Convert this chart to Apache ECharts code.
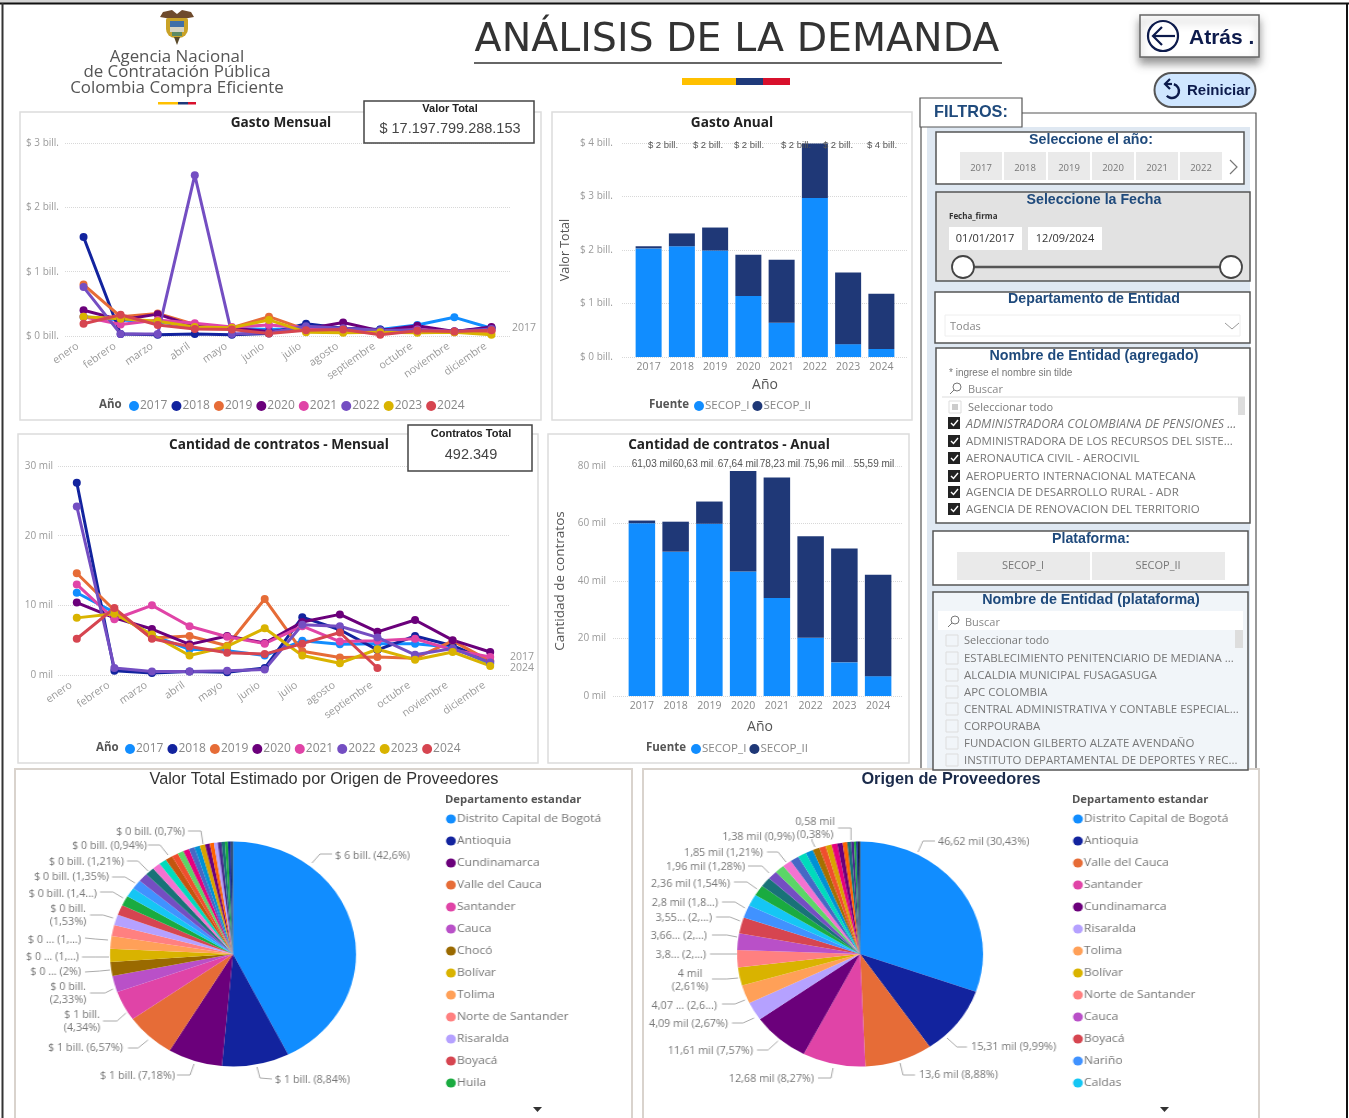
<!DOCTYPE html>
<html><head><meta charset="utf-8">
<title>Análisis de la demanda</title>
<script src="https://cdn.jsdelivr.net/npm/echarts@6/dist/echarts.min.js"></script>
<style>
html,body{margin:0;padding:0;background:#fff;overflow:hidden}
#main{position:absolute;left:0;top:0;width:1349px;height:1118px}
.pie{position:absolute;transform-origin:0 0}
</style></head><body>
<div id="main"></div>
<div id="pieA" class="pie"></div>
<div id="pieB" class="pie"></div>
<script>
// ---------- data ----------
const months = ['enero','febrero','marzo','abril','mayo','junio','julio','agosto','septiembre','octubre','noviembre','diciembre'];
const years = ['2017','2018','2019','2020','2021','2022','2023','2024'];
const yearColors = ['#118DFF','#12239E','#E66C37','#6B007B','#E044A7','#744EC2','#D9B300','#D64550'];

const gasto2017 = [0.30,0.25,0.22,0.14,0.12,0.10,0.12,0.09,0.10,0.17,0.29,0.12];
const gasto2018 = [1.54,0.03,0.02,0.03,0.02,0.04,0.19,0.12,0.10,0.10,0.07,0.13];
const gasto2019 = [0.80,0.30,0.35,0.18,0.13,0.30,0.10,0.09,0.07,0.07,0.06,0.07];
const gasto2020 = [0.40,0.25,0.34,0.15,0.12,0.07,0.11,0.21,0.08,0.16,0.07,0.14];
const gasto2021 = [0.30,0.18,0.25,0.20,0.14,0.17,0.13,0.10,0.07,0.10,0.07,0.09];
const gasto2022 = [0.76,0.03,0.03,2.50,0.03,0.05,0.15,0.12,0.09,0.09,0.07,0.11];
const gasto2023 = [0.30,0.27,0.23,0.14,0.13,0.25,0.06,0.05,0.06,0.05,0.06,0.02];
const gasto2024 = [0.19,0.33,0.17,0.11,0.10,0.04,0.09,0.10,0.02,0.08,0.07,0.09];
const gastoSeries = [gasto2017,gasto2018,gasto2019,gasto2020,gasto2021,gasto2022,gasto2023,gasto2024];

const contratos2017 = [11.8,9.0,5.7,3.7,3.5,2.8,4.9,4.4,4.5,4.5,4.0,1.6];
const contratos2018 = [27.6,0.6,0.3,0.5,0.4,1.0,8.3,6.5,3.6,5.6,4.2,2.0];
const contratos2019 = [14.6,9.3,5.3,5.6,4.2,10.9,3.4,2.5,2.6,2.4,4.9,2.0];
const contratos2020 = [10.4,8.2,6.6,4.4,5.6,4.6,7.6,8.7,6.2,7.9,5.0,3.3];
const contratos2021 = [13.0,8.0,10.0,7.0,5.5,4.5,7.0,4.8,4.9,5.2,3.6,2.6];
const contratos2022 = [24.2,1.0,0.5,0.5,0.6,0.8,7.2,7.0,5.4,2.9,3.8,1.8];
const contratos2023 = [8.2,8.8,5.8,2.8,4.1,6.7,2.8,1.7,3.7,2.2,3.3,1.3];
const contratos2024 = [5.2,9.6,5.2,4.1,3.2,3.0,4.5,6.1,1.0,null,null,null];
const contratosSeries = [contratos2017,contratos2018,contratos2019,contratos2020,contratos2021,contratos2022,contratos2023,contratos2024];

const fuentes = ['SECOP_I','SECOP_II'];
const anualGastoI  = [2.03,2.07,1.99,1.14,0.64,2.97,0.24,0.15];
const anualGastoII = [0.04,0.24,0.43,0.77,1.18,1.02,1.34,1.03];
const anualContratosI  = [60.1,50.2,59.9,43.3,34.1,20.3,11.7,6.9];
const anualContratosII = [0.93,10.43,7.74,34.93,41.86,35.29,39.6,35.3];
const gastoTotales = ['$ 2 bill.','$ 2 bill.','$ 2 bill.','$ 2 bill.','$ 2 bill.','$ 4 bill.'];
const contratosTotales = ['61,03 mil','60,63 mil','67,64 mil','78,23 mil','75,96 mil','55,59 mil'];

const pieANames = ['Distrito Capital de Bogotá','Antioquia','Cundinamarca','Valle del Cauca','Santander','Cauca','Chocó','Bolívar','Tolima','Norte de Santander','Risaralda','Boyacá','Huila','Caldas','Nariño','Meta','Córdoba','Atlántico','Magdalena','Sucre','Cesar','Quindío','La Guajira','Casanare','Arauca','Putumayo','Caquetá','Guaviare','Amazonas','Vichada','Vaupés','San Andrés','Guainía','Exterior'];
const pieAValues = [42.6,8.84,7.18,6.57,4.34,2.33,2.0,1.9,1.8,1.6,1.53,1.45,1.42,1.38,1.35,1.25,1.21,1.05,1.0,0.94,0.85,0.8,0.78,0.75,0.72,0.7,0.62,0.55,0.5,0.48,0.45,0.4,0.36,0.3];
const pieAColors = ['#118DFF','#12239E','#6B007B','#E66C37','#E044A7','#B950C8','#9A6A00','#D9B300','#FFA058','#FF8080','#B5A1FF','#D64550','#1AAB40','#15C6F4','#4092FF','#744EC2','#197278','#F472D0','#00DBBC','#C4550F','#F04E2E','#5BD667','#E6007E','#4668C5','#0091D5','#D9A300','#6B007B','#FF6300','#B5A1FF','#4B2A8C','#197278','#1AAB40','#12239E','#1F3A5F'];
const pieALabels = {0:'$ 6 bill. (42,6%)',1:'$ 1 bill. (8,84%)',2:'$ 1 bill. (7,18%)',3:'$ 1 bill. (6,57%)',4:'$ 1 bill.\n(4,34%)',5:'$ 0 bill.\n(2,33%)',6:'$ 0 ... (2%)',7:'$ 0 ... (1,...)',8:'$ 0 ... (1,...)',10:'$ 0 bill.\n(1,53%)',12:'$ 0 bill. (1,4...)',14:'$ 0 bill. (1,35%)',16:'$ 0 bill. (1,21%)',19:'$ 0 bill. (0,94%)',25:'$ 0 bill. (0,7%)'};
const pieALegend = ['Distrito Capital de Bogotá','Antioquia','Cundinamarca','Valle del Cauca','Santander','Cauca','Chocó','Bolívar','Tolima','Norte de Santander','Risaralda','Boyacá','Huila'];

const pieBNames = ['Distrito Capital de Bogotá','Antioquia','Valle del Cauca','Santander','Cundinamarca','Risaralda','Tolima','Bolívar','Norte de Santander','Cauca','Boyacá','Nariño','Caldas','Huila','Meta','Córdoba','Atlántico','Magdalena','Sucre','Cesar','Quindío','Chocó','La Guajira','Casanare','Arauca','Putumayo','Caquetá','Guaviare','Amazonas','Vichada','Vaupés','San Andrés'];
const pieBValues = [30.43,9.99,8.88,8.27,7.57,2.67,2.66,2.61,2.48,2.39,2.32,1.83,1.7,1.54,1.4,1.28,1.25,1.21,1.15,1.1,1.0,0.9,0.85,0.8,0.75,0.7,0.6,0.5,0.38,0.3,0.25,0.24];
const pieBColors = ['#118DFF','#12239E','#E66C37','#E044A7','#6B007B','#B5A1FF','#FFA058','#D9B300','#FF8080','#B950C8','#D64550','#4092FF','#15C6F4','#1AAB40','#197278','#744EC2','#5BD667','#F472D0','#4668C5','#00DBBC','#0091D5','#A66F00','#F04E2E','#D9A300','#E6007E','#6B007B','#FF6300','#197278','#4B2A8C','#1AAB40','#12239E','#111111'];
const pieBLabels = {0:'46,62 mil (30,43%)',1:'15,31 mil (9,99%)',2:'13,6 mil (8,88%)',3:'12,68 mil (8,27%)',4:'11,61 mil (7,57%)',5:'4,09 mil (2,67%)',6:'4,07 ... (2,6...)',7:'4 mil\n(2,61%)',8:'3,8... (2,...)',9:'3,66... (2,...)',10:'3,55... (2,...)',11:'2,8 mil (1,8...)',13:'2,36 mil (1,54%)',15:'1,96 mil (1,28%)',17:'1,85 mil (1,21%)',21:'1,38 mil (0,9%)',28:'0,58 mil\n(0,38%)'};
const pieBLegend = ['Distrito Capital de Bogotá','Antioquia','Valle del Cauca','Santander','Cundinamarca','Risaralda','Tolima','Bolívar','Norte de Santander','Cauca','Boyacá','Nariño','Caldas'];

const entidadesAgregado = ['ADMINISTRADORA COLOMBIANA DE PENSIONES ...','ADMINISTRADORA DE LOS RECURSOS DEL SISTE...','AERONAUTICA CIVIL - AEROCIVIL','AEROPUERTO INTERNACIONAL MATECANA','AGENCIA DE DESARROLLO RURAL - ADR','AGENCIA DE RENOVACION DEL TERRITORIO'];
const entidadesPlataforma = ['ESTABLECIMIENTO PENITENCIARIO DE MEDIANA ...','ALCALDIA MUNICIPAL FUSAGASUGA','APC COLOMBIA','CENTRAL ADMINISTRATIVA Y CONTABLE ESPECIAL...','CORPOURABA','FUNDACION GILBERTO ALZATE AVENDAÑO','INSTITUTO DEPARTAMENTAL DE DEPORTES Y REC...'];
const anioBotones = ['2017','2018','2019','2020','2021','2022'];

// ---------- layout ----------
const SANS = '"Open Sans"', ARIAL = '"Liberation Sans"', NAVY='#1f4a7c', DARK='#0d1b4c';
const G = [];
function rect(x,y,w,h,fill,stroke,lw,z,extra){G.push({type:'rect',z:z==null?-5:z,shape:Object.assign({x,y,width:w,height:h},extra&&extra.r?{r:extra.r}:{}),style:Object.assign({fill:fill||'none',stroke:stroke||null,lineWidth:lw||0},extra&&extra.style||{}),silent:true});}
function txt(x,y,s,size,color,o){o=o||{};G.push({type:'text',z:o.z==null?1:o.z,x,y:y+2,style:{text:s,font:(o.italic?'italic ':'')+(o.bold?'bold ':'')+size+'px '+(o.fam||SANS),fill:color,align:o.align||'left',verticalAlign:'middle'},silent:true});}
function line(pts,color,lw,z){G.push({type:'polyline',z:z==null?1:z,shape:{points:pts},style:{stroke:color,lineWidth:lw,fill:null},silent:true});}
function circ(x,y,r,fill,stroke,lw,z){G.push({type:'circle',z:z==null?1:z,shape:{cx:x,cy:y,r},style:{fill:fill||'none',stroke:stroke||null,lineWidth:lw||0},silent:true});}
function poly(pts,fill){G.push({type:'polygon',z:1,shape:{points:pts},style:{fill},silent:true});}
function arc(x,y,r,a0,a1,color,lw){G.push({type:'arc',z:1,shape:{cx:x,cy:y,r,startAngle:a0,endAngle:a1,clockwise:true},style:{stroke:color,lineWidth:lw,fill:null},silent:true});}

// page frame
rect(0,0,1260,3,'#d5d5d5');
line([[0,3.5],[1349,3.5]],'#111',2,3);
line([[2.5,3],[2.5,1118]],'#333',2,3);
line([[1347,3],[1347,1118]],'#111',2,3);

// header
txt(737,38.5,'ANÁLISIS DE LA DEMANDA',39.5,'#333',{fam:'"DejaVu Sans"',align:'center'});
line([[474,63],[1002,63]],'#333',1.5);
rect(682,78,54,7,'#FFC000',null,0,1);rect(736,78,27,7,'#1F3A7A',null,0,1);rect(763,78,27,7,'#D8102C',null,0,1);
// crest and logo
poly([[177,20],[160,17],[163,12],[172,10],[177,14]],'#6e4a2c');
poly([[177,20],[194,17],[191,12],[182,10],[177,14]],'#6e4a2c');
rect(166,18,22,20,'#C9A227',null,0,1,{r:[2,2,9,9]});
rect(170,21,14,6,'#3f6fa8',null,0,1);rect(170,27,14,5,'#d6d3c2',null,0,1);rect(172,32,10,4,'#5d8a63',null,0,1);
poly([[174,37],[180,37],[177,45]],'#5a4a2a');
txt(177,55,'Agencia Nacional',16.9,'#555',{align:'center'});
txt(177,70,'de Contratación Pública',16.9,'#555',{align:'center'});
txt(177,86,'Colombia Compra Eficiente',16.9,'#555',{align:'center'});
rect(158,102,20,2.5,'#FFC000',null,0,1);rect(178,102,10,2.5,'#1F3A7A',null,0,1);rect(188,102,8,2.5,'#D8102C',null,0,1);

// Atras / Reiniciar
rect(1140,15,119,42,'#fff','#666',1.5,0,{style:{shadowBlur:8,shadowOffsetY:6,shadowColor:'rgba(80,80,80,.6)'}});
circ(1163,36,15,'#fff',DARK,2.2,1);
line([[1175,36],[1153,36]],DARK,2.2);line([[1162,27],[1153,36],[1162,45]],DARK,2.2);
txt(1189,36,'Atrás .',21,DARK,{bold:true,fam:ARIAL});
rect(1154.5,73,101,34,'#CFE6FF','#555',2,0,{r:17});
arc(1172,91,7,-1.3,2.4,DARK,2.4);
line([[1172,84],[1166,84]],DARK,2.2);line([[1170,79],[1165,84],[1170,89]],DARK,2.2);
txt(1187,89,'Reiniciar',15,DARK,{bold:true,fam:ARIAL});

// chart panels
rect(20,112,521,308,'#fff','#dcdcdc',1.5);
rect(552,112,360,308,'#fff','#dcdcdc',1.5);
rect(18,434,520,329,'#fff','#dcdcdc',1.5);
rect(548,434,361,329,'#fff','#dcdcdc',1.5);
// KPI boxes
rect(364,101,170,42,'#fff','#444',1.5,20);
txt(450,107,'Valor Total',11,'#222',{bold:true,fam:ARIAL,align:'center',z:21});
txt(450,127,'$ 17.197.799.288.153',14.5,'#444',{fam:ARIAL,align:'center',z:21});
rect(408,425,124,46,'#fff','#444',1.5,20);
txt(471,432,'Contratos Total',11,'#222',{bold:true,fam:ARIAL,align:'center',z:21});
txt(471,453,'492.349',14.5,'#444',{fam:ARIAL,align:'center',z:21});
// legend captions
txt(99,403,'Año',11.5,'#555',{bold:true});
txt(96,746,'Año',11.5,'#555',{bold:true});
txt(649,403,'Fuente',11.5,'#555',{bold:true});
txt(646,746,'Fuente',11.5,'#555',{bold:true});
// end labels
txt(512,326,'2017',10.5,'#999');
txt(510,655,'2017',10.5,'#999');txt(510,666,'2024',10.5,'#999');
// bar totals
const gastoTotalX=[663,708,749,796,838,882];
gastoTotales.forEach((s,i)=>txt(gastoTotalX[i],143,s,9.5,'#555',{fam:ARIAL,align:'center',z:5}));
const contratosTotalX=[652,693,738,780,824,874];
contratosTotales.forEach((s,i)=>txt(contratosTotalX[i],462,s,10,'#555',{fam:ARIAL,align:'center',z:5}));

// filter panel
rect(921,113,335,657,'#fff','#555',1.2);
rect(927,127,323,643,'#DFE8F2');
rect(920,98,102,29,'#fff','#555',1.2,0);
txt(934,111,'FILTROS:',16.3,NAVY,{bold:true,fam:ARIAL});
// year
rect(936,132,308,52,'#fff','#555',1.5,0);
txt(1091,138,'Seleccione el año:',14.2,NAVY,{bold:true,fam:ARIAL,align:'center'});
anioBotones.forEach((y,i)=>{rect(960+i*44,152,42,28,'#EAEAEA',null,0,0);txt(981+i*44,166,y,9.5,'#777',{align:'center'});});
line([[1230,160],[1237,167],[1230,174]],'#777',1.2);
// date
rect(936,192,314,89,'#E2E2E2','#555',1.5,0);
txt(1094,198,'Seleccione la Fecha',14.2,NAVY,{bold:true,fam:ARIAL,align:'center'});
txt(949,215,'Fecha_firma',8,'#333',{bold:true});
rect(949,227,73,23,'#fff',null,0,0);rect(1028,227,74,23,'#fff',null,0,0);
txt(985,237,'01/01/2017',11,'#333',{align:'center'});
txt(1065,237,'12/09/2024',11,'#333',{align:'center'});
line([[963,267],[1231,267]],'#555',2.5);
circ(963,267,11,'#fff','#444',1.8);circ(1231,267,11,'#fff','#444',1.8);
// depto
rect(935,292,315,51,'#fff','#555',1.5,0);
txt(1094,297,'Departamento de Entidad',14.2,NAVY,{bold:true,fam:ARIAL,align:'center'});
rect(945,315,295,21,'#fff','#eeeeee',1,0);
txt(950,325,'Todas',11,'#888');
line([[1225,323],[1232,329],[1239,323]],'#999',1);
// agregado
rect(936,348,314,175,'#fff','#555',1.5,0);
txt(1094,354,'Nombre de Entidad (agregado)',14.3,NAVY,{bold:true,fam:ARIAL,align:'center'});
txt(949,371,'* ingrese el nombre sin tilde',10,'#777',{fam:ARIAL});
circ(957,387,4,null,'#777',1);line([[954,390],[950,394]],'#777',1);
txt(968,388,'Buscar',11,'#888');
line([[942,397],[1245,397]],'#ddd',1);
rect(949,401,12,12,'#fff','#ddd',1,0);rect(952,404,6,6,'#ccc',null,0,0);
txt(968,406,'Seleccionar todo',11,'#777');
rect(1238,397,7,18,'#ddd',null,0,0);
const yAg=[423,441,458,476,492,509];
entidadesAgregado.forEach((s,i)=>{
  rect(948,yAg[i]-6,12,12,'#222',null,0,0);
  line([[951,yAg[i]],[953.5,yAg[i]+2.5],[958,yAg[i]-3]],'#fff',1.4);
  txt(966,yAg[i]-1,s,i===0?12.3:11.5,'#777',{italic:i===0});
});
// plataforma
rect(933,531,315,54,'#fff','#555',1.5,0);
txt(1091,537,'Plataforma:',14.2,NAVY,{bold:true,fam:ARIAL,align:'center'});
rect(957,552,133,28,'#EAEAEA',null,0,0);rect(1092,552,133,28,'#EAEAEA',null,0,0);
txt(1023,564,'SECOP_I',11,'#777',{align:'center'});
txt(1158,564,'SECOP_II',11,'#777',{align:'center'});
// entidad plataforma
rect(933,592,315,178,'#F1F5F9','#555',1.5,0);
txt(1091,598,'Nombre de Entidad (plataforma)',14.3,NAVY,{bold:true,fam:ARIAL,align:'center'});
rect(938,611,305,19,'#fff',null,0,0);
circ(955,620,4,null,'#777',1);line([[952,623],[948,627]],'#777',1);
txt(965,621,'Buscar',11,'#888');
rect(1235,630,8,18,'#ddd',null,0,0);
rect(946,635,12,11,'#F1F5F9','#ddd',1,0);
txt(964,639,'Seleccionar todo',11,'#777');
const yPl=[658,675,692,709,726,743,760];
entidadesPlataforma.forEach((s,i)=>{
  rect(946,yPl[i]-6,12,12,'#F1F5F9','#ddd',1,0);
  txt(964,yPl[i]-1,s,11.45,'#777');
});
// pie panels
rect(15,769,617,360,'#fff','#d9d3cd',2,-4);
rect(643,769,616,360,'#fff','#d9d3cd',2,-4);
txt(445,798,'Departamento estandar',11.3,'#555',{bold:true});
txt(1072,798,'Departamento estandar',11.3,'#555',{bold:true});
poly([[533,1107],[542,1107],[537.5,1112]],'#333');
poly([[1160,1107],[1169,1107],[1164.5,1112]],'#333');

// ---------- charts ----------
const titleStyle={fontFamily:SANS,fontWeight:'bold',fontSize:13.6,color:'#222'};
function titleAt(text,x,y,style){return {text,left:x,top:y,textAlign:'center',padding:0,textStyle:Object.assign({},titleStyle,style||{})};}
const split={show:true,lineStyle:{type:'dotted',color:'#d8d8d8',width:1}};
const axLabel={color:'#9a9a9a',fontFamily:SANS,fontSize:10,padding:[2,0,0,0]};
const gridDefs=[
 {left:65,right:1349-510,top:143,height:193},   // line: gasto
 {left:58,right:1349-509,top:466,height:209},   // line: contratos
 {left:632,width:266,top:143,height:214},       // bars: gasto
 {left:625,width:270,top:466,height:230},       // bars: contratos
 {left:622,width:285,top:143,height:214},       // rules: gasto
 {left:613,width:290,top:466,height:230}        // rules: contratos
];
const bill=v=>'$ '+v+' bill.', mil=v=>v+' mil';
const monthAxis=i=>({type:'category',gridIndex:i,data:months,axisLine:{show:false},axisTick:{show:false},axisLabel:{color:'#9a9a9a',fontFamily:SANS,fontSize:10.6,rotate:35,interval:0,margin:5,padding:[0,7,0,0]},splitLine:{show:false}});
const yearAxis=(i,g)=>({type:'category',gridIndex:i,data:years,name:'Año',nameLocation:'middle',nameGap:g,nameTextStyle:{color:'#555',fontFamily:SANS,fontSize:14},axisLine:{show:false},axisTick:{show:false},axisLabel:{color:'#888',fontFamily:SANS,fontSize:10.5,interval:0,margin:5}});
const ruleX=i=>({type:'value',gridIndex:i,min:0,max:1,show:false});
const xAxes=[monthAxis(0),monthAxis(1),yearAxis(2,21),yearAxis(3,24),ruleX(4),ruleX(5)];
const yAxes=[
 {type:'value',gridIndex:0,min:0,max:3,interval:1,axisLabel:Object.assign({},axLabel,{formatter:bill,margin:6}),splitLine:split,axisLine:{show:false},axisTick:{show:false}},
 {type:'value',gridIndex:1,min:0,max:30,interval:10,axisLabel:Object.assign({},axLabel,{formatter:mil,margin:5}),splitLine:split,axisLine:{show:false},axisTick:{show:false}},
 {type:'value',gridIndex:2,min:0,max:4,interval:1,show:false},
 {type:'value',gridIndex:3,min:0,max:80,interval:20,show:false},
 {type:'value',gridIndex:4,min:0,max:4,interval:1,name:'Valor Total',nameLocation:'middle',nameGap:50,nameTextStyle:{color:'#555',fontFamily:SANS,fontSize:12.5},axisLabel:Object.assign({},axLabel,{formatter:bill,margin:9}),splitLine:split,axisLine:{show:false},axisTick:{show:false}},
 {type:'value',gridIndex:5,min:0,max:80,interval:20,name:'Cantidad de contratos',nameLocation:'middle',nameGap:46,nameTextStyle:{color:'#555',fontFamily:SANS,fontSize:13.5},axisLabel:Object.assign({},axLabel,{formatter:mil,margin:7}),splitLine:split,axisLine:{show:false},axisTick:{show:false}}
];
const series=[];
function lineSeries(arrs,idx){arrs.forEach((d,i)=>series.push({type:'line',name:years[i],xAxisIndex:idx,yAxisIndex:idx,data:d,symbol:'circle',symbolSize:8,showSymbol:true,lineStyle:{width:3,color:yearColors[i]},itemStyle:{color:yearColors[i]},connectNulls:false,animation:false,silent:true}));}
lineSeries(gastoSeries,0);lineSeries(contratosSeries,1);
function barSeries(a,b,idx,w){
  series.push({type:'bar',name:fuentes[0],stack:'t'+idx,xAxisIndex:idx,yAxisIndex:idx,data:a,barWidth:w,itemStyle:{color:'#118DFF'},animation:false,silent:true});
  series.push({type:'bar',name:fuentes[1],stack:'t'+idx,xAxisIndex:idx,yAxisIndex:idx,data:b,barWidth:w,itemStyle:{color:'#1F3877'},animation:false,silent:true});
}
barSeries(anualGastoI,anualGastoII,2,26);barSeries(anualContratosI,anualContratosII,3,26.5);
const lg=(x,y,data,gap,fs)=>({left:x,top:y,data,icon:'circle',itemWidth:10,itemHeight:10,itemGap:gap,selectedMode:false,padding:0,textStyle:{color:'#888',fontFamily:SANS,fontSize:fs,padding:[0,0,0,-4]}});
echarts.init(document.getElementById('main'),null,{renderer:'canvas'}).setOption({
  animation:false,backgroundColor:'#fff',
  title:[titleAt('Gasto Mensual',281,116),titleAt('Cantidad de contratos - Mensual',279,438),titleAt('Gasto Anual',732,116),titleAt('Cantidad de contratos - Anual',729,438),
    titleAt('Valor Total Estimado por Origen de Proveedores',324,772,{fontFamily:ARIAL,fontWeight:'normal',fontSize:16.3,color:'#333'}),
    titleAt('Origen de Proveedores',951,772,{fontFamily:ARIAL,fontWeight:'bold',fontSize:16.3,color:'#1a2a4a'})],
  grid:gridDefs,xAxis:xAxes,yAxis:yAxes,series,
  legend:[lg(129,400,years,4,12),lg(125,743,years,4,12),lg(694,400,fuentes,3,11.6),lg(691,743,fuentes,3,11.6)],
  graphic:{elements:G}
});

// pies: the reference is stretched horizontally, so each pie is drawn in its own stretched layer
const K=123/112.5;
function pieChart(domId,L,T,W,H,cxPage,names,values,colors,labels,anchors,legendNames,legendLeft){
  const el=document.getElementById(domId);
  const lw=(W)/K;
  el.style.cssText=`left:${L}px;top:${T}px;width:${lw}px;height:${H}px;transform:scaleX(${K})`;
  const X=p=>(p-L)/K, Y=p=>p-T;
  const data=names.map((n,i)=>({name:n,value:values[i],itemStyle:{color:colors[i]},
    label:{show:labels[i]!=null,formatter:labels[i]||''},labelLine:{show:labels[i]!=null}}));
  echarts.init(el).setOption({
    animation:false,
    legend:{orient:'vertical',left:X(legendLeft),top:Y(818)-5,data:legendNames,icon:'circle',itemWidth:9,itemHeight:9,itemGap:10,selectedMode:false,padding:0,textStyle:{color:'#777',fontFamily:SANS,fontSize:11.1,lineHeight:12,padding:[0,0,0,-4]}},
    series:[{type:'pie',silent:true,center:[X(cxPage),Y(954)],radius:[0,112.5],startAngle:90,clockwise:true,data,
      avoidLabelOverlap:false,minShowLabelAngle:0,
      itemStyle:{borderWidth:0},
      label:{position:'outside',color:'#777',fontFamily:SANS,fontSize:9.9,lineHeight:13,alignTo:'none'},
      labelLine:{show:true,lineStyle:{color:'#aaa',width:1}},
      labelLayout:(p)=>{const a=anchors[p.dataIndex];if(!a)return {};
        return {x:X(a[0]),y:Y(a[1]),align:a[2],verticalAlign:'middle',labelLinePoints:a[3].map(q=>[X(q[0]),Y(q[1])])};}
    }]
  });
}
// label anchors in page pixels: [x, y, align, leader points]
const anchorsA={0:[335,856,'left',[[312,863],[320,854],[332,854]]],1:[275,1080,'left',[[257,1067],[260,1078],[272,1079]]],2:[175,1076,'right',[[194,1064],[190,1075],[177,1075]]],3:[123,1048,'right',[[148,1040],[138,1048],[128,1048]]],4:[82,1022,'center',[[126,1013],[117,1021],[103,1021]]],5:[68,994,'center',[[113,989],[105,993],[90,993]]],6:[81,972,'right',[[110,970],[100,971],[85,972]]],7:[79,957,'right',[[109,957],[95,957],[82,957]]],8:[81,940,'right',[[108,940],[95,939],[85,938]]],10:[68,916,'center',[[113,918],[103,915],[90,915]]],12:[97,894,'right',[[123,898],[113,892],[100,892]]],14:[109,877,'right',[[135,883],[125,877],[112,877]]],16:[124,862,'right',[[148,871],[138,861],[127,861]]],19:[147,846,'right',[[168,855],[160,845],[148,845]]],25:[185,832,'right',[[203,844],[201,831],[188,831]]]};
const anchorsB={0:[938,842,'left',[[918,852],[923,841],[935,841]]],1:[971,1047,'left',[[947,1038],[957,1047],[967,1047]]],2:[919,1075,'left',[[900,1063],[903,1075],[915,1075]]],3:[814,1079,'right',[[833,1068],[831,1078],[818,1078]]],4:[753,1051,'right',[[778,1041],[768,1050],[757,1050]]],5:[728,1024,'right',[[754,1018],[743,1023],[732,1023]]],6:[717,1006,'right',[[745,1000],[735,1004],[722,1004]]],7:[690,981,'center',[[738,978],[727,979],[712,979]]],8:[706,955,'right',[[737,954],[725,954],[710,954]]],9:[707,936,'right',[[737,937],[727,935],[712,935]]],10:[712,918,'right',[[740,921],[730,917],[716,917]]],11:[718,903,'right',[[745,908],[735,902],[722,902]]],13:[730,884,'right',[[757,889],[747,882],[734,882]]],15:[745,867,'right',[[769,873],[762,866],[748,866]]],17:[763,853,'right',[[786,862],[778,852],[767,852]]],21:[795,837,'right',[[815,847],[812,841],[812,839]]],28:[815,829,'center',[[851,840],[851,828],[838,828]]]};
pieChart('pieA',15,769,617,349,233,pieANames,pieAValues,pieAColors,pieALabels,anchorsA,pieALegend,446);
pieChart('pieB',643,769,616,349,860,pieBNames,pieBValues,pieBColors,pieBLabels,anchorsB,pieBLegend,1073);
</script>
</body></html>
